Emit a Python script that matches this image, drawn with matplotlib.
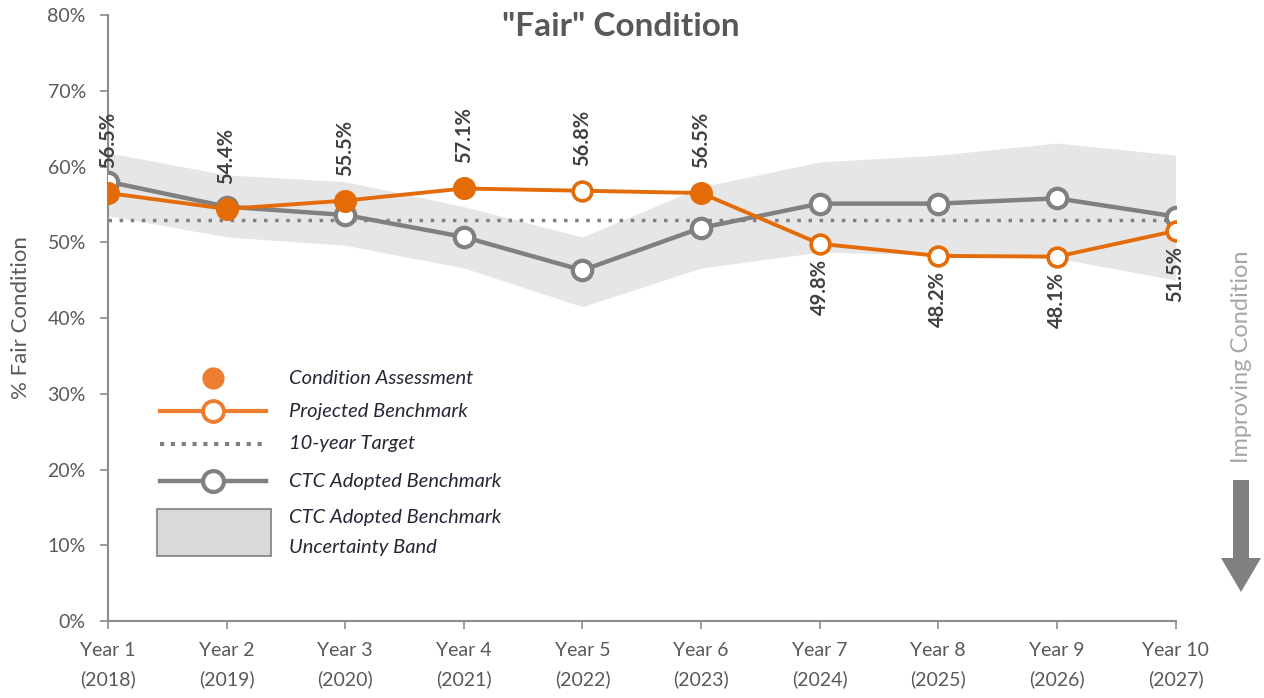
import matplotlib

matplotlib.use("Agg")
import matplotlib.pyplot as plt
from matplotlib.lines import Line2D
from matplotlib.patches import Rectangle, FancyArrow
from matplotlib.ticker import PercentFormatter

plt.rcParams["font.family"] = ["Lato", "DejaVu Sans"]

# --- data -------------------------------------------------------------------
years = ["Year 1\n(2018)", "Year 2\n(2019)", "Year 3\n(2020)", "Year 4\n(2021)", "Year 5\n(2022)",
         "Year 6\n(2023)", "Year 7\n(2024)", "Year 8\n(2025)", "Year 9\n(2026)", "Year 10\n(2027)"]
projected = [56.5, 54.4, 55.5, 57.1, 56.8, 56.5, 49.8, 48.2, 48.1, 51.5]
assessed = [True, True, True, True, False, True, False, False, False, False]
ctc = [58.0, 54.7, 53.6, 50.7, 46.3, 51.9, 55.1, 55.1, 55.8, 53.4]
band_hi = [61.8, 58.9, 58.0, 54.7, 50.7, 57.3, 60.6, 61.5, 63.1, 61.5]
band_lo = [53.5, 50.7, 49.6, 46.6, 41.5, 46.6, 48.7, 48.3, 47.9, 45.0]
target = 53.0
labels_below = [False] * 6 + [True] * 4

ORANGE = "#E36C09"
ORANGE_LT = "#ED7D31"
GRAY = "#808080"
BAND = "#E6E6E6"
AXIS = "#8C8C8C"
TXT = "#595959"
LEG = "#262638"

fig = plt.figure(figsize=(12.64, 6.98), dpi=100)
ax = fig.add_axes([0.0855, 0.1103, 0.8445, 0.8682])
x = list(range(len(years)))

ax.fill_between(x, band_lo, band_hi, color=BAND, lw=0, zorder=1)
ax.axhline(target, color=GRAY, ls=(0, (1, 2.2)), lw=2.5, zorder=2)
ax.plot(x, ctc, color=GRAY, lw=3.2, marker="o", ms=14, mfc="white", mec=GRAY, mew=3, zorder=3)
ax.plot(x, projected, color=ORANGE, lw=2.8, zorder=4)
for xi, v, filled in zip(x, projected, assessed):
    ax.plot(xi, v, marker="o", ms=14 if filled else 13.5, mfc=ORANGE if filled else "white",
            mec=ORANGE, mew=2.6, zorder=5)

for xi, v, below in zip(x, projected, labels_below):
    ax.annotate(f"{v:.1f}%", (xi, v), xytext=(0, -11 if below else 18), textcoords="offset points",
                rotation=90, ha="center", va="top" if below else "bottom",
                fontsize=14.5, fontweight="bold", color="#404040", zorder=6)

ax.set_xlim(0, 9)
ax.set_ylim(0, 80)
ax.set_xticks(x)
ax.set_xticklabels(years, fontsize=14, color=TXT, linespacing=1.75)
ax.set_yticks(range(0, 81, 10))
ax.yaxis.set_major_formatter(PercentFormatter(decimals=0))
ax.tick_params(axis="y", labelsize=14, labelcolor=TXT, color=AXIS, length=6, width=1.2, pad=10)
ax.tick_params(axis="x", color=AXIS, length=6, width=1.2, pad=9)
for s in ("top", "right"):
    ax.spines[s].set_visible(False)
for s in ("left", "bottom"):
    ax.spines[s].set_color(AXIS)
    ax.spines[s].set_linewidth(1.5)
ax.set_ylabel("% Fair Condition", fontsize=16, color=TXT, labelpad=12)

fig.text(0.491, 0.962, '"Fair" Condition', ha="center", va="center", fontsize=24,
         fontweight="bold", color=TXT)

# --- legend (drawn by hand, figure pixel positions) ---------------------------
W, H = 1264, 698
def fx(px):
    return px / W
def fy(py):
    return 1 - py / H

tr = fig.transFigure
fig.add_artist(Line2D([fx(213)], [fy(378)], marker="o", ms=15, mfc=ORANGE_LT, mec=ORANGE_LT, transform=tr))
fig.add_artist(Line2D([fx(160), fx(266)], [fy(411)] * 2, color=ORANGE_LT, lw=3, transform=tr))
fig.add_artist(Line2D([fx(213)], [fy(411)], marker="o", ms=15, mfc="white", mec=ORANGE_LT, mew=2.8, transform=tr))
fig.add_artist(Line2D([fx(160), fx(266)], [fy(444)] * 2, color=GRAY, ls=(0, (1, 1.6)), lw=3, transform=tr))
fig.add_artist(Line2D([fx(160), fx(266)], [fy(481)] * 2, color=GRAY, lw=3.2, transform=tr))
fig.add_artist(Line2D([fx(213)], [fy(481)], marker="o", ms=15, mfc="white", mec=GRAY, mew=3, transform=tr))
fig.add_artist(Rectangle((fx(157), fy(556)), fx(114), (556 - 509) / H, facecolor="#D9D9D9",
                         edgecolor=GRAY, lw=1.2, transform=tr))
leg_items = [("Condition Assessment", 378), ("Projected Benchmark", 411), ("10-year Target", 444),
             ("CTC Adopted Benchmark", 481), ("CTC Adopted Benchmark", 517), ("Uncertainty Band", 547)]
for t, py in leg_items:
    fig.text(fx(289), fy(py), t, fontsize=14.5, style="italic", color=LEG, va="center", ha="left")

# --- improving-condition arrow -------------------------------------------------
fig.text(fx(1241), fy(357), "Improving Condition", rotation=90, ha="center", va="center",
         fontsize=17, color="#A6A6A6")
fig.add_artist(FancyArrow(fx(1241), fy(480), 0, -(558 - 480) / H, width=16 / W, head_width=40 / W,
                          head_length=34 / H, length_includes_head=False, color=GRAY, lw=0,
                          transform=tr))

fig.savefig("out.png", dpi=100)
